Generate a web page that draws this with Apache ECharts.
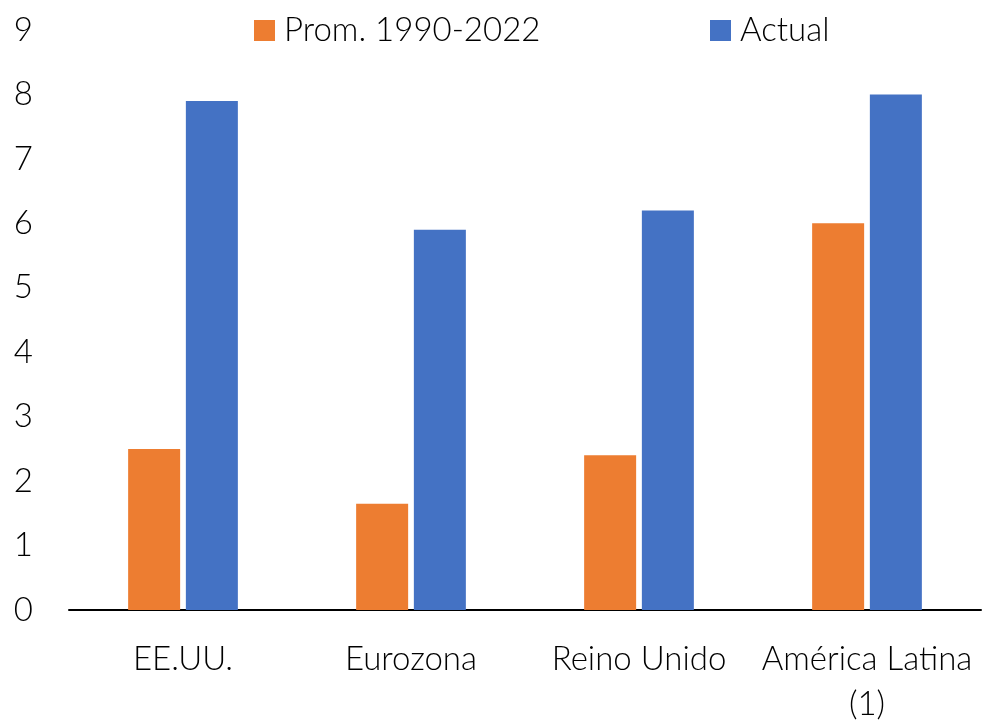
<!DOCTYPE html>
<html>
<head>
<meta charset="utf-8">
<script src="https://cdn.jsdelivr.net/npm/echarts@6/dist/echarts.min.js"></script>
<style>html,body{margin:0;padding:0;background:#fff}#c{width:982px;height:721px}</style>
</head>
<body>
<div id="c"></div>
<script>
const categories = ['EE.UU.', 'Eurozona', 'Reino Unido', 'América Latina\n(1)'];
const promValues = [2.5, 1.65, 2.4, 6.0];
const actualValues = [7.9, 5.9, 6.2, 8.0];
const seriesNames = ['Prom. 1990-2022', 'Actual'];
const yTicks = [0, 1, 2, 3, 4, 5, 6, 7, 8, 9];

const FONT = 'Lato';
const legendText = { fontSize: 33, color: '#000', fontFamily: FONT, fontWeight: 300, padding: [0, 0, 0, 4] };
const chart = echarts.init(document.getElementById('c'));
chart.setOption({
  animation: false,
  backgroundColor: '#fff',
  textStyle: { fontFamily: FONT },
  legend: [
    { top: 14, left: 254, itemWidth: 21, itemHeight: 21, icon: 'rect', padding: 0,
      textStyle: legendText, data: [seriesNames[0]] },
    { top: 14, left: 710, itemWidth: 21, itemHeight: 21, icon: 'rect', padding: 0,
      textStyle: legendText, data: [seriesNames[1]] }
  ],
  grid: { left: 69, right: 1, top: 30, bottom: 111, containLabel: false, outerBoundsMode: 'none' },
  xAxis: {
    type: 'category',
    data: categories,
    axisLine: { lineStyle: { color: '#000', width: 2 } },
    axisTick: { alignWithLabel: true, length: 9, lineStyle: { color: '#000', width: 2 } },
    axisLabel: { fontSize: 33, color: '#000', margin: 27, lineHeight: 45, fontFamily: FONT, fontWeight: 300, interval: 0 }
  },
  yAxis: {
    type: 'value',
    min: yTicks[0],
    max: yTicks[yTicks.length - 1],
    interval: 1,
    splitLine: { show: false },
    axisLine: { show: false },
    axisTick: { show: false },
    axisLabel: { fontSize: 33, color: '#000', margin: 36, fontFamily: FONT, fontWeight: 300 }
  },
  series: [
    { name: seriesNames[0], type: 'bar', data: promValues, barWidth: 52, barGap: '11%',
      itemStyle: { color: '#ED7D31' } },
    { name: seriesNames[1], type: 'bar', data: actualValues, barWidth: 52,
      itemStyle: { color: '#4472C4' } }
  ]
});
</script>
</body>
</html>
